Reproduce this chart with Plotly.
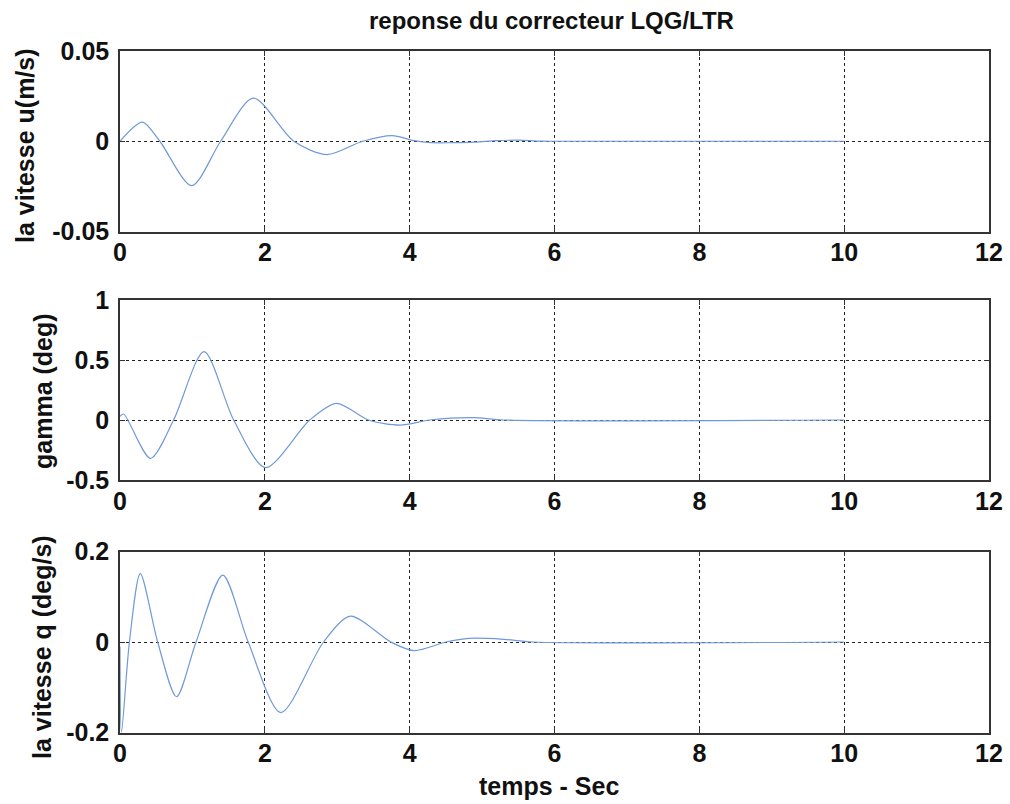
import plotly.graph_objects as go

# ---------------- data ----------------
t_u = [0, 0.31, 0.55, 0.99, 1.39, 1.84, 2.40, 2.86, 3.35, 3.76, 4.04, 4.30, 4.60, 4.90, 5.20, 5.50, 5.80, 6.20, 10]
u   = [0, 0.0106, 0, -0.0246, 0, 0.0239, 0, -0.0074, 0, 0.0031, 0.0005, -0.0008, -0.0008, -0.0005, 0.0003, 0.0006, 0.0001, 0, 0]

t_g = [0, 0.05, 0.42, 0.74, 1.16, 1.57, 2.01, 2.62, 2.99, 3.43, 3.87, 4.28, 4.88, 5.30, 10]
g   = [0.03, 0.05, -0.32, 0, 0.57, 0, -0.397, 0, 0.139, 0, -0.042, 0, 0.02, 0, 0]

t_q = [0, 0.02, 0.13, 0.28, 0.52, 0.78, 1.05, 1.42, 1.77, 2.22, 2.81, 3.18, 3.74, 4.06, 4.50, 4.82, 5.30, 5.70, 10]
q   = [-0.01, -0.2, 0, 0.151, 0, -0.121, 0, 0.148, 0, -0.156, 0, 0.057, 0, -0.019, 0, 0.008, 0.006, 0, 0]

x_ticks = [0, 2, 4, 6, 8, 10, 12]
u_ticks = [-0.05, 0, 0.05]
u_tick_text = ["-0.05", "0", "0.05"]
g_ticks = [-0.5, 0, 0.5, 1]
g_tick_text = ["-0.5", "0", "0.5", "1"]
q_ticks = [-0.2, 0, 0.2]
q_tick_text = ["-0.2", "0", "0.2"]

title_text = "reponse du correcteur LQG/LTR"
y_labels = ["la vitesse u(m/s)", "gamma (deg)", "la vitesse q (deg/s)"]
x_label = "temps - Sec"

# ---------------- layout geometry ----------------
W, H = 1010, 804
FONT = "Liberation Sans, Arial, Helvetica, sans-serif"
LINE_COLOR = "#7099d8"

def ydom(top_px, bot_px):
    return [1 - bot_px / H, 1 - top_px / H]

xdom = [120 / W, 989 / W]
doms = [ydom(51, 231.5), ydom(300, 480), ydom(551.5, 732.5)]

fig = go.Figure()
series = [(t_u, u), (t_g, g), (t_q, q)]
for i, (tx, ty) in enumerate(series):
    fig.add_trace(go.Scatter(
        x=tx, y=ty, mode="lines",
        line=dict(color=LINE_COLOR, width=1.2, shape="spline", smoothing=0.8),
        xaxis="x" if i == 0 else f"x{i+1}",
        yaxis="y" if i == 0 else f"y{i+1}",
        showlegend=False, hoverinfo="skip",
    ))

axis_common = dict(
    automargin=False,
    showline=True, linecolor="#333333", linewidth=1.5, mirror="ticks",
    ticks="inside", ticklen=5, tickcolor="#333333",
    showgrid=True, gridcolor="#222222", gridwidth=1, griddash="3px,3px",
    zeroline=False,
    tickfont=dict(family=FONT, size=25, color="#111111", weight="bold"),
)

yinfo = [((-0.05, 0.05), u_ticks, u_tick_text),
         ((-0.5, 1), g_ticks, g_tick_text),
         ((-0.2, 0.2), q_ticks, q_tick_text)]

layout = {}
for i in range(3):
    xn = "xaxis" if i == 0 else f"xaxis{i+1}"
    yn = "yaxis" if i == 0 else f"yaxis{i+1}"
    xa = "x" if i == 0 else f"x{i+1}"
    ya = "y" if i == 0 else f"y{i+1}"
    layout[xn] = dict(axis_common, domain=xdom, anchor=ya, range=[0, 12],
                      tickvals=x_ticks, ticktext=[str(v) for v in x_ticks],
                      ticklabelstandoff=-2)
    rng, tv, tt = yinfo[i]
    layout[yn] = dict(axis_common, domain=doms[i], anchor=xa, range=list(rng),
                      tickvals=tv, ticktext=tt, ticklabelstandoff=4)

fig.update_layout(**layout)

annotations = []
ylab_pos = [(25, 146), (43, 391), (42, 647)]
for lab, (px, py) in zip(y_labels, ylab_pos):
    annotations.append(dict(
        text=lab, xref="paper", yref="paper", x=px / W, y=1 - py / H,
        xanchor="center", yanchor="middle", textangle=-90, showarrow=False,
        font=dict(family=FONT, size=25, color="#111111", weight="bold")))
annotations.append(dict(
    text=x_label, xref="paper", yref="paper", x=549 / W, y=1 - 786 / H,
    xanchor="center", yanchor="middle", showarrow=False,
    font=dict(family=FONT, size=25, color="#111111", weight="bold")))
annotations.append(dict(
    text=title_text, xref="paper", yref="paper", x=551 / W, y=1 - 20 / H,
    xanchor="center", yanchor="middle", showarrow=False,
    font=dict(family=FONT, size=24, color="#111111", weight="bold")))

fig.update_layout(
    width=W, height=H,
    margin=dict(l=0, r=0, t=0, b=0, autoexpand=False),
    paper_bgcolor="white", plot_bgcolor="white",
    annotations=annotations,
)

fig.write_html(
    "out.html",
    config={"displayModeBar": False},
    post_script="document.body.style.margin='0';document.body.style.overflow='hidden';",
)
